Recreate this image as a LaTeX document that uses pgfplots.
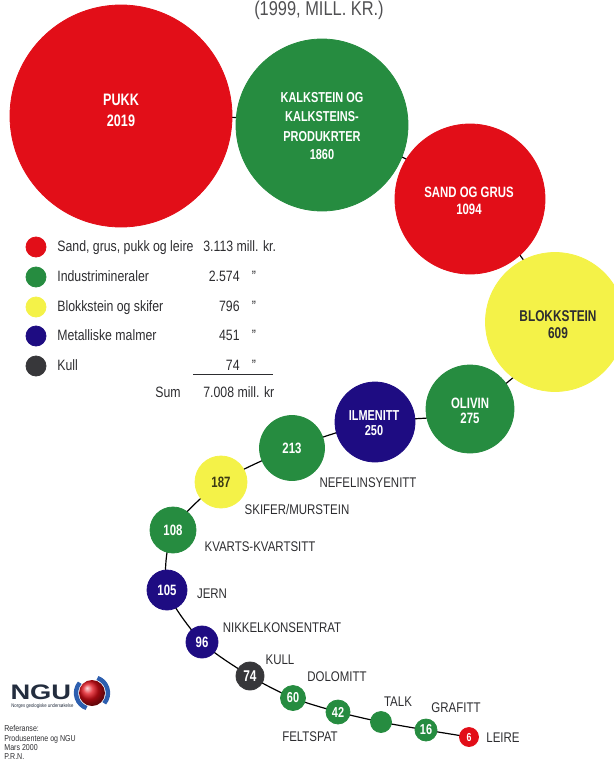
\documentclass[border=0pt]{standalone}
\usepackage{pgfplots}
\pgfplotsset{compat=1.18}
\usepackage{pgfplotstable}
\usepackage{fontspec}
\setmainfont{Liberation Sans}[FakeStretch=0.82]
\newfontfamily\cb{Liberation Sans}[FakeStretch=0.76]
\newfontfamily\wide{Liberation Sans}
\definecolor{cred}{RGB}{226,14,24}
\definecolor{cgreen}{RGB}{38,140,64}
\definecolor{cyellow}{RGB}{244,242,72}
\definecolor{cblue}{RGB}{30,12,130}
\definecolor{cdark}{RGB}{55,55,58}
\definecolor{ctext}{RGB}{45,45,48}
\definecolor{nguc}{RGB}{35,45,62}

% chain order: x y (pixel coordinates)
\pgfplotstableread{
x y
121 116
322 125
470 199
555 322
470 409
375 422
292 448
221 482
173 530
167 590
202 642
250 676
293 698
338 712
381 722
426 730
469 737
}\chain

% bubbles: x y r (r = radius in pixels)
\pgfplotstableread{
x y r
121 116 111
470 199 75
469 737 9.5
}\redtab
\pgfplotstableread{
x y r
322 125 86
470 409 44
292 448 32.5
173 530 23
293 698 12.5
338 712 12
381 722 10.5
426 730 11
}\greentab
\pgfplotstableread{
x y r
555 322 69.5
221 482 26
}\yellowtab
\pgfplotstableread{
x y r
375 422 40
167 590 20
202 642 16
}\bluetab
\pgfplotstableread{
x y r
250 676 14
}\darktab

\pgfplotsset{
  bubble/.style={scatter, only marks, mark=*,
    scatter/use mapped color={draw=#1, fill=#1},
    visualization depends on={\thisrow{r} \as \bubr},
    scatter/@pre marker code/.append style={/tikz/mark size={0.5pt*\bubr}}},
  legdot/.style={only marks, mark=*, mark size=5pt, color=#1},
  canvas/.style={at={(0,0)}, anchor=south west,
    scale only axis, width=307pt, height=386pt,
    xmin=0, xmax=614, ymin=0, ymax=772, y dir=reverse,
    hide axis, clip=true},
}

\tikzset{
  inl/.style={font=\cb\bfseries\fontsize{#1}{#1}\selectfont, text=white, inner sep=0pt, anchor=center},
  inl/.default=7.5,
  outl/.style={font=\fontsize{7}{8}\selectfont, text=ctext, inner sep=0pt, anchor=center},
  legt/.style={font=\fontsize{7.5}{9}\selectfont, text=ctext, inner sep=0pt},
}

\begin{document}
\begin{tikzpicture}
\useasboundingbox (0,0) rectangle (307pt,386pt);
\begin{axis}[canvas]
% connecting line
\addplot[black, line width=0.6pt, smooth, tension=0.45] table[x=x, y=y] {\chain};
% bubbles
\addplot[bubble=cred] table[x=x, y=y] {\redtab};
\addplot[bubble=cgreen] table[x=x, y=y] {\greentab};
\addplot[bubble=cyellow] table[x=x, y=y] {\yellowtab};
\addplot[bubble=cblue] table[x=x, y=y] {\bluetab};
\addplot[bubble=cdark] table[x=x, y=y] {\darktab};
% legend dots
\addplot[legdot=cred] coordinates {(36,247)};
\addplot[legdot=cgreen] coordinates {(36,277)};
\addplot[legdot=cyellow] coordinates {(36,307)};
\addplot[legdot=cblue] coordinates {(36,336)};
\addplot[legdot=cdark] coordinates {(36,366)};
\end{axis}

\begin{axis}[canvas]
% title
\node[font=\fontsize{10}{12}\selectfont, text={rgb,255:red,80;green,80;blue,82}, anchor=base, inner sep=0pt] at (319,15) {(1999, MILL. KR.)};

% labels inside bubbles
\node[inl=8.3] at (121,100) {PUKK};
\node[inl=8.3] at (121,121) {2019};
\node[inl=7.2] at (322,98) {KALKSTEIN OG};
\node[inl=7.2] at (322,117) {KALKSTEINS-};
\node[inl=7.2] at (322,137) {PRODUKRTER};
\node[inl=7.2] at (322,155) {1860};
\node[inl=7.5] at (469,192) {SAND OG GRUS};
\node[inl=7.5] at (469,209) {1094};
\node[inl=7.8, text=ctext] at (558,316) {BLOKKSTEIN};
\node[inl=7.8, text=ctext] at (558,333) {609};
\node[inl=7.5] at (470,403) {OLIVIN};
\node[inl=7.5] at (470,418) {275};
\node[inl=7.2] at (374,416) {ILMENITT};
\node[inl=7.2] at (374,431) {250};
\node[inl=7.5] at (292,448) {213};
\node[inl=7.5, text={rgb,255:red,60;green,58;blue,20}] at (221,482) {187};
\node[inl=7.5] at (173,530) {108};
\node[inl=7.5] at (167,590) {105};
\node[inl=7.5] at (202,642) {96};
\node[inl=7.8] at (250,676) {74};
\node[inl=7.2] at (293,698) {60};
\node[inl=7.2] at (338,712) {42};
\node[inl=7.2] at (426,730) {16};
\node[inl=5.8] at (469,737) {6};

% labels outside
\node[outl] at (368,483) {NEFELINSYENITT};
\node[outl] at (297,509) {SKIFER/MURSTEIN};
\node[outl] at (260,547) {KVARTS-KVARTSITT};
\node[outl] at (212,594) {JERN};
\node[outl] at (282,628) {NIKKELKONSENTRAT};
\node[outl] at (280,660) {KULL};
\node[outl] at (337,677) {DOLOMITT};
\node[outl] at (398,702) {TALK};
\node[outl] at (456,708) {GRAFITT};
\node[outl] at (310,737) {FELTSPAT};
\node[outl] at (503,738) {LEIRE};

% legend texts
\node[legt, anchor=base west] at (57,251) {Sand, grus, pukk og leire};
\node[legt, anchor=base west] at (57,281) {Industrimineraler};
\node[legt, anchor=base west] at (57,311) {Blokkstein og skifer};
\node[legt, anchor=base west] at (57,340) {Metalliske malmer};
\node[legt, anchor=base west] at (57,370) {Kull};
\node[legt, anchor=base west] at (203,251) {3.113 mill. kr.};
\node[legt, anchor=base east] at (240,281) {2.574};
\node[legt, anchor=base east] at (240,311) {796};
\node[legt, anchor=base east] at (240,340) {451};
\node[legt, anchor=base east] at (240,370) {74};
\node[legt, anchor=base] at (254,281) {"};
\node[legt, anchor=base] at (254,311) {"};
\node[legt, anchor=base] at (254,340) {"};
\node[legt, anchor=base] at (254,370) {"};
\draw[ctext, line width=0.5pt] (193,374) -- (273,374);
\node[legt, anchor=base east] at (181,397) {Sum};
\node[legt, anchor=base west] at (203,397) {7.008 mill. kr};

% NGU logo
\node[font=\wide\bfseries\fontsize{10.5}{12}\selectfont, text=nguc, xscale=1.3, anchor=base west, inner sep=0pt] at (10,699) {NGU};
\shade[ball color=cred] (92,693) circle (6.5pt);
\draw[line width=2.2pt, color={rgb,255:red,45;green,95;blue,175}] ([shift={(140:8pt)}]92,693) arc (140:250:8pt);
\draw[line width=2.2pt, color={rgb,255:red,45;green,95;blue,175}] ([shift={(-40:8pt)}]92,693) arc (-40:70:8pt);
\node[font=\fontsize{2.6}{3}\selectfont, text=nguc, anchor=base west, inner sep=0pt] at (11,707) {Norges geologiske undersøkelse};
\node[font=\fontsize{4.3}{5}\selectfont, text=ctext, anchor=base west, inner sep=0pt] at (4,731) {Referanse:};
\node[font=\fontsize{4.3}{5}\selectfont, text=ctext, anchor=base west, inner sep=0pt] at (4,741) {Produsentene og NGU};
\node[font=\fontsize{4.3}{5}\selectfont, text=ctext, anchor=base west, inner sep=0pt] at (4,750) {Mars 2000};
\node[font=\fontsize{4.3}{5}\selectfont, text=ctext, anchor=base west, inner sep=0pt] at (4,759) {P.R.N.};
\end{axis}
\end{tikzpicture}
\end{document}
